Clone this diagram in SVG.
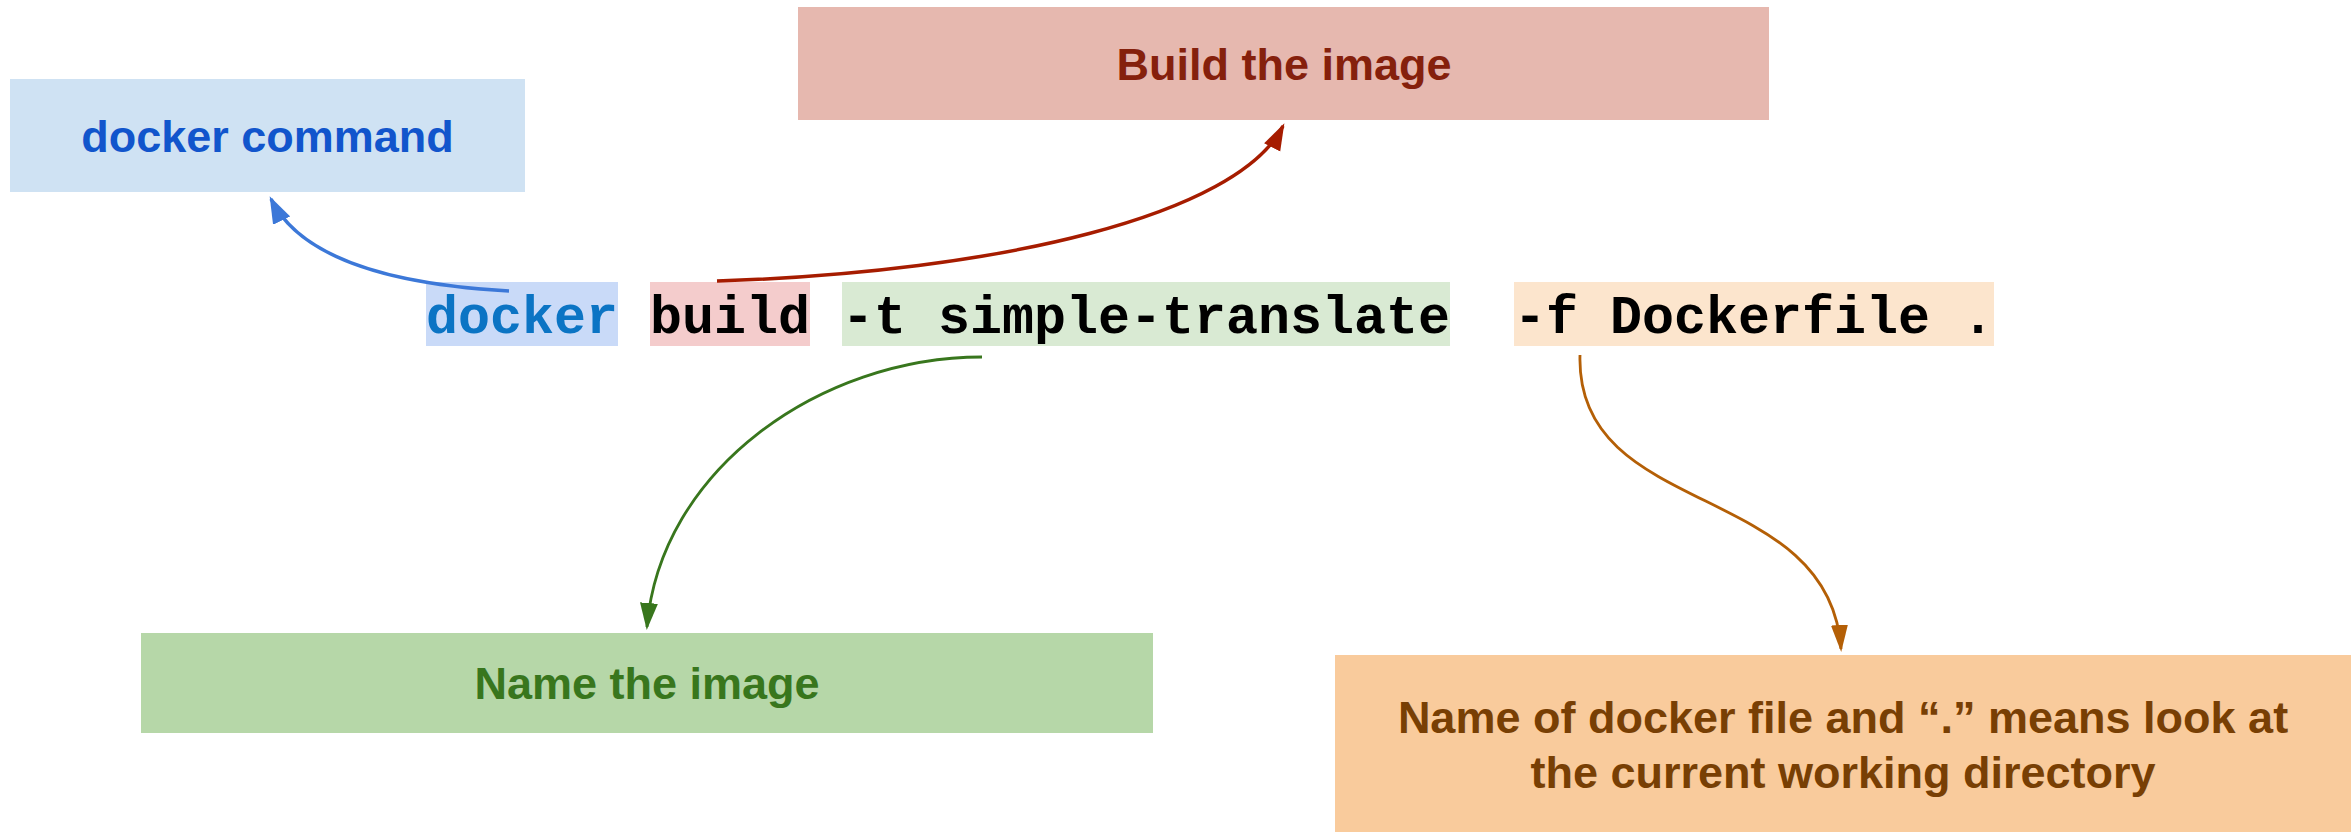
<svg xmlns="http://www.w3.org/2000/svg" width="2351" height="832" viewBox="0 0 2351 832">
  <style>
    .label { font-family: "Liberation Sans", Arial, sans-serif; font-weight: bold; font-size: 45px; text-anchor: middle; }
    .code { font-family: "Liberation Mono", "Courier New", monospace; font-weight: bold; font-size: 53.33px; fill: #000000; }
    .link { fill: none; }
  </style>
  <defs>
    <marker id="head-blue" markerUnits="userSpaceOnUse" markerWidth="30" markerHeight="20" refX="24" refY="10" orient="auto">
      <path d="M0,0.5 L27,10 L0,19.5 z" fill="#3c78d8"/>
    </marker>
    <marker id="head-red" markerUnits="userSpaceOnUse" markerWidth="30" markerHeight="20" refX="24" refY="10" orient="auto">
      <path d="M0,1 L27,10 L0,19 z" fill="#a61c00"/>
    </marker>
    <marker id="head-green" markerUnits="userSpaceOnUse" markerWidth="30" markerHeight="20" refX="24" refY="10" orient="auto">
      <path d="M0,1 L27,10 L0,19 z" fill="#38761d"/>
    </marker>
    <marker id="head-orange" markerUnits="userSpaceOnUse" markerWidth="30" markerHeight="20" refX="24" refY="10" orient="auto">
      <path d="M0,1.5 L27,10 L0,18.5 z" fill="#b45f06"/>
    </marker>
  </defs>

  <rect x="0" y="0" width="2351" height="832" fill="#ffffff"/>

  <!-- the command line, each part on its own highlight -->
  <g id="command">
    <rect x="426" y="282" width="192" height="64" fill="#c9daf8"/>
    <rect x="650" y="282" width="160" height="64" fill="#f4cccc"/>
    <rect x="842" y="282" width="608" height="64" fill="#d9ead3"/>
    <rect x="1514" y="282" width="480" height="64" fill="#fce5cd"/>
    <text class="code" x="426" y="333" style="fill:#0b74c4">docker</text>
    <text class="code" x="650" y="333">build</text>
    <text class="code" x="842" y="333">-t simple-translate</text>
    <text class="code" x="1514" y="333">-f Dockerfile .</text>
  </g>

  <g id="docker-command">
    <rect x="10" y="79" width="515" height="113" fill="#cfe2f3"/>
    <text class="label" x="267.5" y="152" fill="#1155cc">docker command</text>
  </g>

  <g id="build-image">
    <rect x="798" y="7" width="971" height="113" fill="#e6b8af"/>
    <text class="label" x="1284" y="80" fill="#85200c">Build the image</text>
  </g>

  <g id="name-image">
    <rect x="141" y="633" width="1012" height="100" fill="#b6d7a8"/>
    <text class="label" x="647" y="699" fill="#38761d">Name the image</text>
  </g>

  <g id="dockerfile">
    <rect x="1335" y="655" width="1016" height="177" fill="#f9cb9c"/>
    <text class="label" x="1843" y="733" fill="#783f04">Name of docker file and “.” means look at</text>
    <text class="label" x="1843" y="788" fill="#783f04">the current working directory</text>
  </g>

  <g id="connectors">
    <path class="link" d="M509,291 C400,285 302,262 271,199" stroke="#3c78d8" stroke-width="3.5" marker-end="url(#head-blue)"/>
    <path class="link" d="M717,281 C1000,272 1238,215 1283,126" stroke="#a61c00" stroke-width="3.5" marker-end="url(#head-red)"/>
    <path class="link" d="M982,357 C820,357 660,470 647,627" stroke="#38761d" stroke-width="2.8" marker-end="url(#head-green)"/>
    <path class="link" d="M1580,355 C1575,520 1830,480 1841,649" stroke="#b45f06" stroke-width="2.8" marker-end="url(#head-orange)"/>
  </g>
</svg>
